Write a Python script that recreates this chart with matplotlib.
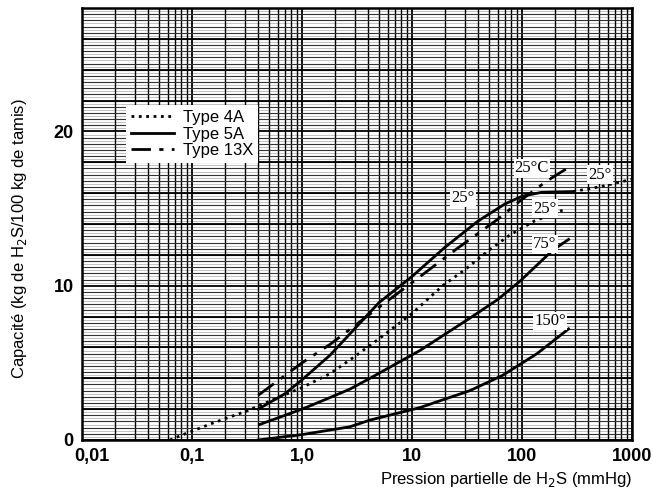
import numpy as np
import matplotlib
matplotlib.use("Agg")
import matplotlib.pyplot as plt
import matplotlib.transforms as mtransforms
from matplotlib.ticker import LogLocator, MultipleLocator, NullFormatter

# values (pressure in mmHg, capacity in kg/100 kg)
p_4a_25 = [0.063, 0.09, 0.155, 0.32, 0.5, 1.0, 1.8, 3.0, 5.1, 10.0, 19.0, 31.0,
           50.0, 78.0, 130.0, 255.0]
c_4a_25 = [0.0, 0.45, 1.1, 1.9, 2.5, 3.4, 4.3, 5.4, 6.6, 8.2, 10.0, 11.1,
           12.3, 13.3, 14.2, 15.0]

p_5a_25 = [0.4, 0.7, 1.0, 1.8, 3.0, 5.0, 10.0, 20.0, 40.0, 70.0, 100.0, 150.0, 290.0]
c_5a_25 = [2.0, 3.0, 3.9, 5.5, 7.2, 8.9, 10.6, 12.5, 14.2, 15.3, 15.8, 16.05, 16.1]

p_5a_25_ext = [290.0, 500.0, 1000.0]
c_5a_25_ext = [16.1, 16.4, 16.9]

p_5a_75 = [0.41, 1.0, 1.6, 2.73, 4.15, 11.8, 33.6, 60.0, 96.0, 190.0, 265.0]
c_5a_75 = [1.0, 2.0, 2.6, 3.3, 4.0, 5.8, 7.9, 9.1, 10.3, 12.3, 13.0]

p_5a_150 = [0.4, 1.0, 2.7, 4.2, 11.8, 33.6, 67.0, 137.0, 265.0]
c_5a_150 = [0.0, 0.35, 0.85, 1.3, 2.1, 3.2, 4.2, 5.6, 7.2]

p_13x_25 = [0.4, 1.0, 1.8, 3.0, 5.0, 10.0, 25.6, 60.0, 100.0, 169.0, 270.0]
c_13x_25 = [2.9, 5.0, 6.2, 7.4, 8.6, 10.2, 12.4, 14.3, 15.6, 16.8, 17.7]

x_ticks = [0.01, 0.1, 1.0, 10, 100, 1000]
x_tick_labels = ["0,01", "0,1", "1,0", "10", "100", "1000"]
y_ticks = [0, 10, 20]

curve_labels = [("25°C", 123, 17.6), ("25°", 512, 17.2), ("25°", 29, 15.7),
                ("25°", 162, 15.0), ("75°", 162, 12.7), ("150°", 180, 7.7)]

plt.rcParams['font.family'] = ['Liberation Sans', 'DejaVu Sans']

fig = plt.figure(figsize=(6.53, 4.97), dpi=100)
ax = fig.add_axes([0.1256, 0.1147, 0.8423, 0.8692])
ax.set_xscale('log')
ax.set_xlim(0.01, 1000)
ax.set_ylim(0, 28)

# graph paper
ax.xaxis.set_minor_locator(LogLocator(base=10, subs=np.arange(2, 10)))
ax.xaxis.set_minor_formatter(NullFormatter())
ax.yaxis.set_minor_locator(MultipleLocator(0.4))
ax.grid(which='major', axis='x', color='black', lw=1.3)
ax.grid(which='minor', axis='x', color='black', lw=1.0)
ax.grid(which='minor', axis='y', color='#333333', lw=0.8)
for yy in np.arange(0.2, 28, 0.4):
    ax.axhline(yy, color='#aaaaaa', lw=0.5, zorder=0.5)
for yy in np.arange(0, 28.1, 2):
    ax.axhline(yy, color='black', lw=1.3, zorder=0.6)
ax.set_axisbelow(True)

lw = 2.0
ax.plot(p_4a_25, c_4a_25, ':', color='black', lw=lw, label='Type 4A')
ax.plot(p_5a_25, c_5a_25, '-', color='black', lw=lw, label='Type 5A')
ax.plot(p_13x_25, c_13x_25, '-.', color='black', lw=lw, label='Type 13X',
        dashes=(7, 3, 1.5, 3))
ax.plot(p_5a_25_ext, c_5a_25_ext, ':', color='black', lw=lw)
ax.plot(p_5a_75, c_5a_75, '-', color='black', lw=lw)
ax.plot(p_5a_150, c_5a_150, '-', color='black', lw=lw)

for txt, px, py in curve_labels:
    ax.text(px, py, txt, ha='center', va='center', fontsize=12,
            family=['Liberation Serif', 'DejaVu Serif'],
            bbox=dict(facecolor='white', edgecolor='none', pad=0.8), zorder=5)

ax.set_xticks(x_ticks)
ax.set_xticklabels(x_tick_labels)
ax.set_yticks(y_ticks)
ax.tick_params(axis='both', which='both', length=0, labelsize=13, pad=6)
for lab in ax.get_xticklabels() + ax.get_yticklabels():
    lab.set_fontweight('bold')

# in the original the first x label sits a little right of its line
first = ax.get_xticklabels()[0]
first.set_transform(first.get_transform() +
                    mtransforms.ScaledTranslation(10 / 100, 0, fig.dpi_scale_trans))

for sp in ax.spines.values():
    sp.set_linewidth(1.8)

leg = ax.legend(loc='upper left', bbox_to_anchor=(0.065, 0.795), frameon=True,
                fancybox=False, edgecolor='none', framealpha=1.0,
                fontsize=12, handlelength=2.6, labelspacing=0.1,
                borderpad=0.3, handletextpad=0.5)

fig.text(0.03, 0.52, "Capacité (kg de H$_2$S/100 kg de tamis)", rotation=90,
         ha='center', va='center', fontsize=12)
fig.text(0.968, 0.035, "Pression partielle de H$_2$S (mmHg)", ha='right',
         va='center', fontsize=12)

fig.savefig('out.png', dpi=100)
